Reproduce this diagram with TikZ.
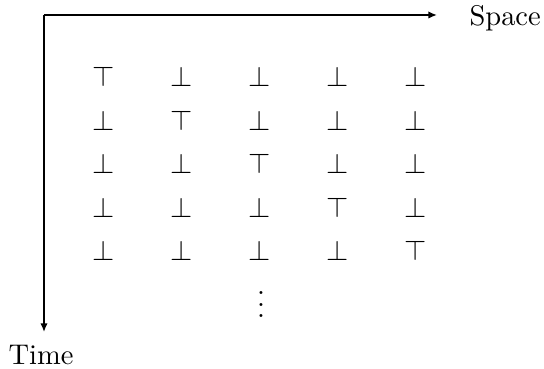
\documentclass[tikz,border=0pt]{standalone}
\usetikzlibrary{arrows.meta}
\begin{document}
\begin{tikzpicture}[x=0.351pt,y=-0.351pt,
  axis/.style={line width=0.8pt,-{Latex[length=3pt,width=2.6pt]}},
  sym/.style={inner sep=0pt},
  lbl/.style={inner sep=0pt,anchor=base west}]
\useasboundingbox (0,0) rectangle (544,369);
\coordinate (o) at (44,15);
\coordinate (sx) at (437,15);
\coordinate (tx) at (44,332);
\draw[axis] (o) -- (sx);
\draw[axis] (o) -- (tx);
\node[lbl] (space) at (469,26) {Space};
\node[lbl] (time) at (8,365) {Time};
\foreach \r/\y in {1/77,2/121,3/164,4/208,5/251}{
  \foreach \c/\x in {1/104,2/182,3/260,4/338,5/416}{
    \ifnum\r=\c
      \node[sym] (m-\r-\c) at (\x,\y) {$\top$};
    \else
      \node[sym] (m-\r-\c) at (\x,\y) {$\bot$};
    \fi
  }
}
\node[sym] (dots) at (261,296) {$\vdots$};
\end{tikzpicture}
\end{document}
